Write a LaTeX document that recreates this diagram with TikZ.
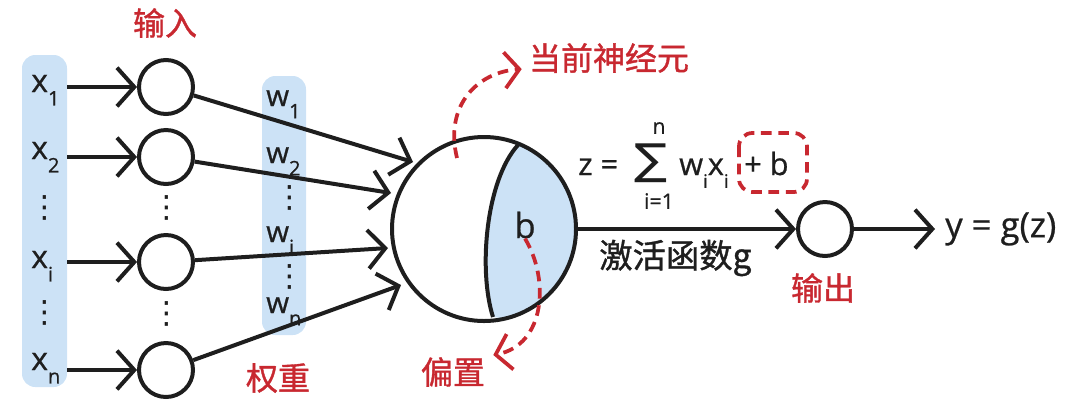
\documentclass[tikz,border=0pt]{standalone}
\usepackage{fontspec}
\usepackage{graphicx}
\setmainfont{Open Sans}[FakeBold=0.7]
\newfontfamily\cjk{Noto Sans CJK SC}[FakeBold=1.1]
\newfontfamily\dejavu{DejaVu Sans}
\usetikzlibrary{arrows.meta,calc}
\definecolor{lblue}{RGB}{204,226,246}
\definecolor{dred}{RGB}{200,40,48}
\definecolor{ink}{RGB}{30,30,30}
\newcommand{\lsub}[1]{\raisebox{-0.42em}{\fontsize{15}{15}\selectfont #1}}
\newcommand{\fsub}[1]{\raisebox{-0.42em}{\fontsize{14}{14}\selectfont #1}}
\begin{document}
\begin{tikzpicture}[x=0.75pt,y=-0.75pt,
  neuron/.style={circle,draw=ink,line width=3pt,minimum size=40.5pt,inner sep=0pt},
  conn/.style={draw=ink,line width=3pt,-{Straight Barb[length=13pt,width=29pt]}},
  plain/.style={draw=ink,line width=3pt},
  redarrow/.style={draw=dred,line width=2.8pt,dash pattern=on 8pt off 5pt,-{Straight Barb[length=11pt,width=27pt]}},
  colbox/.style={fill=lblue,rounded corners=10pt},
  redlbl/.style={text=dred,font=\cjk\fontsize{24}{24}\selectfont,inner sep=0pt},
  cjklbl/.style={text=ink,font=\cjk\fontsize{25}{25}\selectfont,inner sep=0pt},
  xlbl/.style={text=ink,font=\fontsize{24}{24}\selectfont,inner sep=0pt,anchor=base west},
  wlbl/.style={text=ink,font=\fontsize{22}{22}\selectfont,inner sep=0pt,anchor=base west},
  vdot/.style={text=ink,font=\dejavu\fontsize{23}{23}\selectfont,inner sep=0pt},
  fml/.style={text=ink,font=\fontsize{23}{23}\selectfont,inner sep=0pt,anchor=base west}
]
\useasboundingbox (0,0) rectangle (1080,405);
% column boxes
\path[colbox] (22,55) rectangle (67,387);
\path[colbox] (262,76) rectangle (306,335);
% input labels
\node[xlbl] (x1) at (31,92) {x\lsub{1}};
\node[xlbl] (x2) at (31,159) {x\lsub{2}};
\node[vdot] (xd1) at (45,208) {⋮};
\node[xlbl] (xi) at (31,268) {x\lsub{i}};
\node[vdot] (xd2) at (45,313) {⋮};
\node[xlbl] (xn) at (31,370) {x\lsub{n}};
% input neurons
\node[neuron] (c1) at (166,87) {};
\node[neuron] (c2) at (166,157) {};
\node[vdot] (cd1) at (167,208) {⋮};
\node[neuron] (ci) at (166,262) {};
\node[vdot] (cd2) at (167,314) {⋮};
\node[neuron] (cn) at (166,370) {};
\coordinate (s1) at (67,87);
\coordinate (s2) at (67,157);
\coordinate (si) at (67,262);
\coordinate (sn) at (67,370);
\draw[conn] (s1) -- (c1);
\draw[conn] (s2) -- (c2);
\draw[conn] (si) -- (ci);
\draw[conn] (sn) -- (cn);
% weights
\node[wlbl] (w1) at (266,106) {w\lsub{1}};
\node[wlbl] (w2) at (266,163) {w\lsub{2}};
\node[vdot] (wd1) at (290,198) {⋮};
\node[wlbl] (wi) at (266,242) {w\lsub{i}};
\node[vdot] (wd2) at (290,277) {⋮};
\node[wlbl] (wn) at (266,313) {w\lsub{n}};
% main neuron
\node[circle,minimum size=138pt,inner sep=0pt] (N) at (484,229) {};
\begin{scope}
\clip (N.center) circle[radius=69pt];
\fill[lblue] (518,145) .. controls (486,180) and (478,270) .. (493,317) -- (600,330) -- (600,120) -- cycle;
\end{scope}
\draw[plain] (518,145) .. controls (486,180) and (478,270) .. (493,317);
\draw[plain] (N.center) circle[radius=69pt];
\node[text=ink,font=\fontsize{26}{26}\selectfont,inner sep=0pt] (b) at (525,225) {b};
% connections into neuron
\coordinate (t1) at (413,162);
\coordinate (t2) at (391,193);
\coordinate (ti) at (388,248);
\coordinate (tn) at (401,285);
\draw[conn] (c1) -- (t1);
\draw[conn] (c2) -- (t2);
\draw[conn] (ci) -- (ti);
\draw[conn] (cn) -- (tn);
% output
\node[neuron] (o) at (825,229) {};
\draw[conn] (N.east) -- (o);
\coordinate (oe) at (935,229);
\draw[conn] (o) -- (oe);
\node[text=ink,font=\fontsize{26}{26}\selectfont,inner sep=0pt,anchor=west] (y) at (945,229) {y = g(z)};
% formula
\node[fml] (z) at (578,175) {z = };
\node[text=ink,font=\dejavu\fontsize{32}{32}\selectfont,inner sep=0pt] (sum) at (651,163) {\scalebox{1.15}[1]{∑}};
\node[text=ink,font=\fontsize{16}{16}\selectfont,inner sep=0pt] (sn1) at (659,128) {n};
\node[text=ink,font=\fontsize{16}{16}\selectfont,inner sep=0pt] (si1) at (659,201) {i=1};
\node[fml] (wx) at (679,175) {w\fsub{i}x\fsub{i}};
\node[fml] (pb) at (744,175) {+ b};
\draw[draw=dred,line width=2.8pt,dash pattern=on 8pt off 5pt,rounded corners=10pt] (739,133) rectangle (807,192);
% labels
\node[redlbl] (lin) at (165,23) {输入};
\node[redlbl] (lw) at (278,378) {权重};
\node[redlbl] (lcur) at (609,58) {当前神经元};
\node[redlbl] (lbias) at (453,372) {偏置};
\node[redlbl] (lout) at (823,288) {输出};
\node[cjklbl,anchor=west] (act) at (599,258) {激活函数g};
% red dashed arrows
\coordinate (u0) at (457,158);
\draw[redarrow] (u0) .. controls (444,105) and (478,72) .. ($(lcur.south west)+(-7,-4)$);
\draw[redarrow] (b.south) .. controls (550,280) and (545,345) .. ($(lbias.north east)+(8,-2)$);
\end{tikzpicture}
\end{document}
